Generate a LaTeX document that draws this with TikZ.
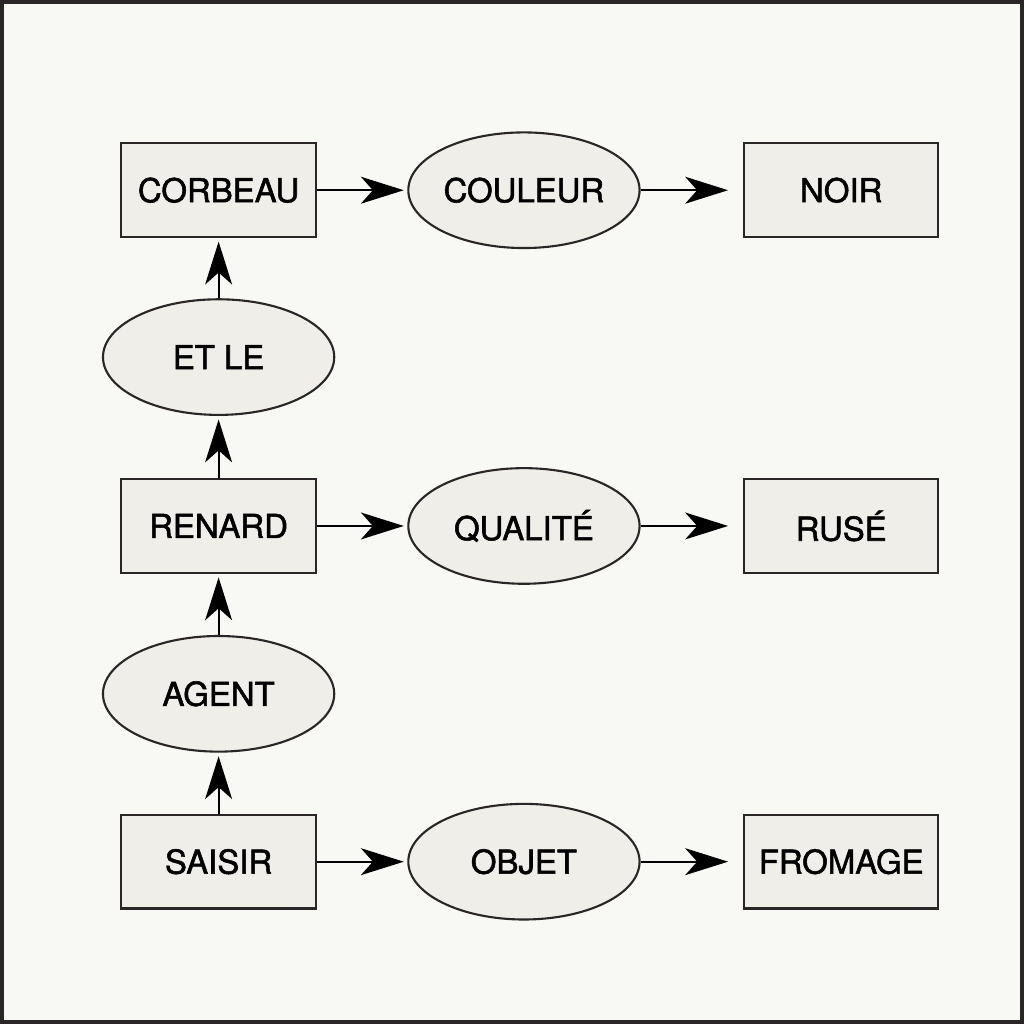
\documentclass[tikz,border=0pt]{standalone}
\usepackage{fontspec}
\setmainfont{TeX Gyre Heros}[FakeBold=1.6]
\usepackage{tikz}
\usetikzlibrary{shapes.geometric,arrows.meta}
\definecolor{Paper}{RGB}{248, 248, 244}
\definecolor{Fill}{RGB}{239, 238, 232}
\definecolor{Ink}{RGB}{42, 37, 38}

\begin{document}
\begin{tikzpicture}[
    x=0.01cm, y=-0.01cm,
    concept/.style={rectangle, draw=Ink, fill=Fill, line width=0.6pt, minimum width=1.95cm,
                    minimum height=0.94cm, inner sep=0pt, font=\fontsize{9.4}{11}\selectfont},
    relation/.style={ellipse, draw=Ink, fill=Fill, line width=0.6pt, minimum width=2.32cm,
                     minimum height=1.16cm, inner sep=0pt, font=\fontsize{9.4}{11}\selectfont},
    arr/.style={-{Stealth[length=0.43cm, width=0.27cm, inset=0.12cm, fill=black]}, line width=0.6pt,
                black, shorten >=1pt},
    farr/.style={arr, shorten >=0.15cm},
]
\fill[Paper] (0,0) rectangle (1024,1024);
\draw[Ink, line width=1.1pt] (0,0) rectangle (1024,1024);

\node[concept] (corbeau) at (217.5,189) {CORBEAU};
\node[relation] (couleur) at (524,189) {COULEUR};
\node[concept] (noir) at (842.5,189) {NOIR};

\node[relation] (etle) at (217.5,356.5) {ET LE};

\node[concept] (renard) at (217.5,526) {RENARD};
\node[relation] (qualite) at (524,526) {QUALITÉ};
\node[concept] (ruse) at (842.5,526) {RUSÉ};

\node[relation] (agent) at (217.5,694.5) {AGENT};

\node[concept] (saisir) at (217.5,863) {SAISIR};
\node[relation] (objet) at (524,863) {OBJET};
\node[concept] (fromage) at (842.5,863) {FROMAGE};

\draw[arr] (corbeau) -- (couleur);
\draw[farr] (couleur) -- (noir);
\draw[arr] (renard) -- (qualite);
\draw[farr] (qualite) -- (ruse);
\draw[arr] (saisir) -- (objet);
\draw[farr] (objet) -- (fromage);

\draw[arr] (etle) -- (corbeau);
\draw[arr] (renard) -- (etle);
\draw[arr] (agent) -- (renard);
\draw[arr] (saisir) -- (agent);
\end{tikzpicture}
\end{document}
